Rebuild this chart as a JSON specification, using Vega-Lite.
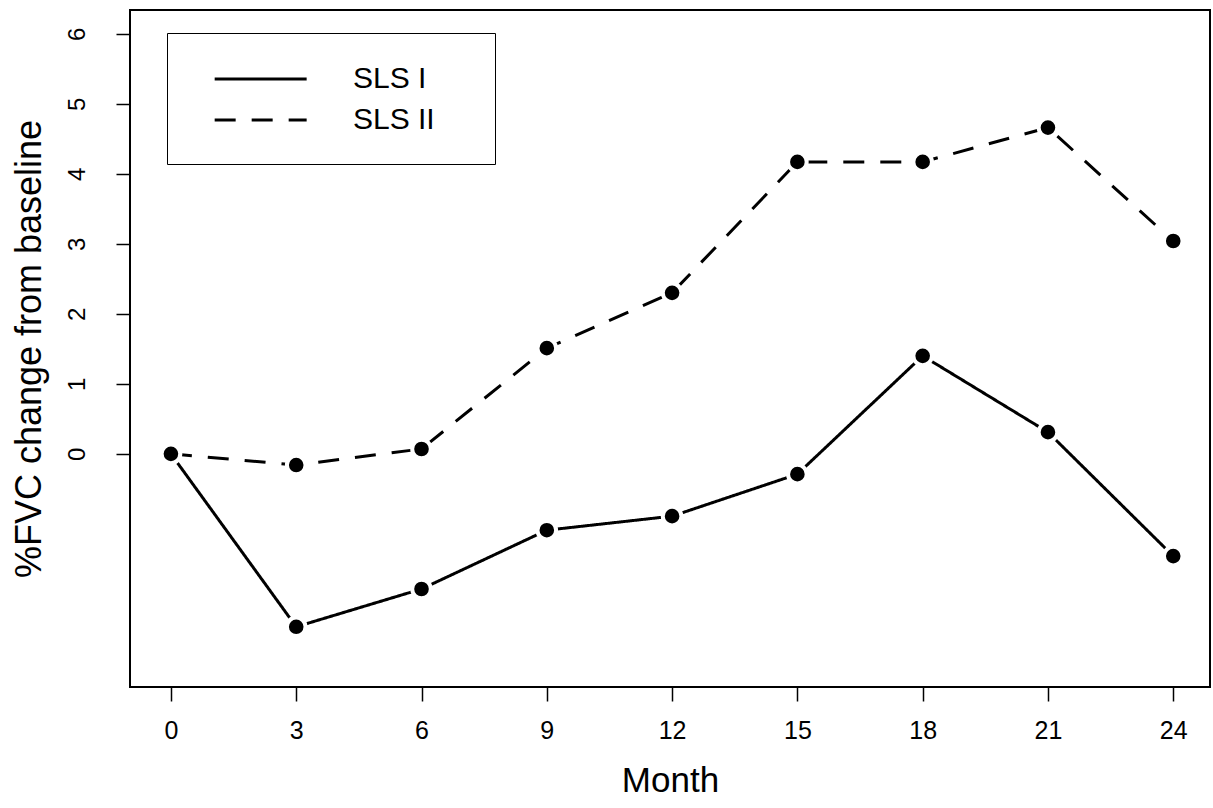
{
  "$schema": "https://vega.github.io/schema/vega-lite/v6.json",
  "width": 1080,
  "height": 677,
  "autosize": {"type": "none"},
  "padding": {"left": 130, "top": 10, "right": 3, "bottom": 121},
  "background": "white",
  "config": {
    "font": "Liberation Sans",
    "view": {"stroke": "black", "strokeWidth": 2},
    "axis": {
      "grid": false,
      "domain": false,
      "tickColor": "black",
      "tickWidth": 1.5,
      "tickSize": 14,
      "labelColor": "black",
      "labelFont": "Liberation Sans",
      "titleColor": "black",
      "titleFont": "Liberation Sans",
      "titleFontWeight": "normal"
    },
    "axisY": {"labelFontSize": 24}
  },
  "data": {
    "values": [
      {"month": 0, "series": "SLS I", "value": 0},
      {"month": 3, "series": "SLS I", "value": -2.47},
      {"month": 6, "series": "SLS I", "value": -1.93},
      {"month": 9, "series": "SLS I", "value": -1.09},
      {"month": 12, "series": "SLS I", "value": -0.89},
      {"month": 15, "series": "SLS I", "value": -0.29},
      {"month": 18, "series": "SLS I", "value": 1.4},
      {"month": 21, "series": "SLS I", "value": 0.31},
      {"month": 24, "series": "SLS I", "value": -1.46},
      {"month": 0, "series": "SLS II", "value": 0},
      {"month": 3, "series": "SLS II", "value": -0.16},
      {"month": 6, "series": "SLS II", "value": 0.07},
      {"month": 9, "series": "SLS II", "value": 1.51},
      {"month": 12, "series": "SLS II", "value": 2.3},
      {"month": 15, "series": "SLS II", "value": 4.17},
      {"month": 18, "series": "SLS II", "value": 4.17},
      {"month": 21, "series": "SLS II", "value": 4.66},
      {"month": 24, "series": "SLS II", "value": 3.04}
    ]
  },
  "encoding": {
    "x": {
      "field": "month",
      "type": "quantitative",
      "scale": {"domain": [-0.98, 24.88], "nice": false, "zero": false},
      "axis": {
        "values": [0, 3, 6, 9, 12, 15, 18, 21, 24],
        "labelFontSize": 25,
        "labelPadding": 17,
        "title": "Month",
        "titleFontSize": 35,
        "titlePadding": 20
      }
    },
    "y": {
      "field": "value",
      "type": "quantitative",
      "scale": {"domain": [-3.33, 6.34], "nice": false, "zero": false},
      "axis": {
        "values": [0, 1, 2, 3, 4, 5, 6],
        "labelAngle": 270,
        "labelAlign": "center",
        "labelBaseline": "bottom",
        "labelFontSize": 24,
        "labelPadding": 27,
        "title": "%FVC change from baseline",
        "titleFontSize": 36,
        "titlePadding": 17
      }
    }
  },
  "layer": [
    {
      "mark": {"type": "line", "color": "black", "strokeWidth": 3},
      "encoding": {
        "strokeDash": {
          "field": "series",
          "type": "nominal",
          "scale": {"domain": ["SLS I", "SLS II"], "range": [[1, 0], [21, 16]]},
          "legend": {
            "title": " ",
            "titleOrient": "right",
            "titlePadding": 31,
            "titleFontSize": 4,
            "orient": "none",
            "legendX": 37,
            "legendY": 23,
            "strokeColor": "black",
            "padding": 29,
            "symbolType": "M-1,0H5",
            "symbolSize": 940,
            "symbolStrokeWidth": 3,
            "symbolStrokeColor": "black",
            "symbolOffset": 17,
            "labelOffset": 106,
            "labelFontSize": 30,
            "labelColor": "black",
            "labelFont": "Liberation Sans",
            "rowPadding": 9
          }
        }
      }
    },
    {
      "mark": {"type": "point", "filled": true, "fill": "black", "fillOpacity": 1, "stroke": "white", "strokeWidth": 4, "strokeOpacity": 1, "size": 346, "opacity": 1}
    }
  ]
}
